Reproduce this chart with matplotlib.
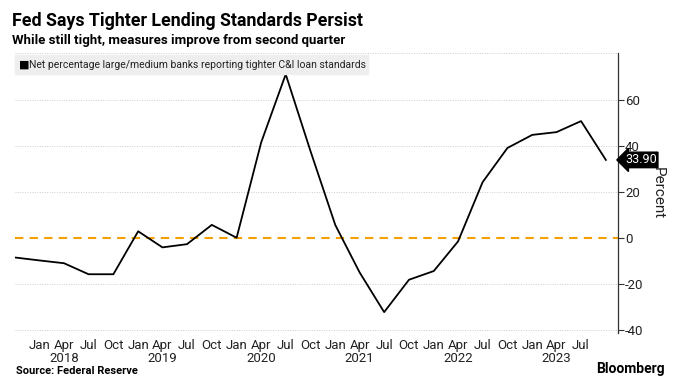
import datetime as dt
import matplotlib.pyplot as plt
from matplotlib.patches import Rectangle

plt.rcParams["font.family"] = ["Roboto", "DejaVu Sans"]

# Net percentage of large/medium banks tightening C&I loan standards (SLOOS)
quarters = ["2017-10", "2018-01", "2018-04", "2018-07", "2018-10",
            "2019-01", "2019-04", "2019-07", "2019-10",
            "2020-01", "2020-04", "2020-07", "2020-10",
            "2021-01", "2021-04", "2021-07", "2021-10",
            "2022-01", "2022-04", "2022-07", "2022-10",
            "2023-01", "2023-04", "2023-07", "2023-10"]
net_tightening = [-8.6, -9.9, -11.1, -15.9, -15.9,
                  2.8, -4.2, -2.8, 5.6,
                  0.0, 41.5, 71.2, 37.7,
                  5.5, -15.1, -32.4, -18.3,
                  -14.5, -1.6, 24.2, 39.1,
                  44.8, 46.0, 50.8, 33.9]
y_ticks = [-40, -20, 0, 20, 40, 60]
month_names = ["Jan", "Apr", "Jul", "Oct"]

dates = [dt.datetime.strptime(q, "%Y-%m") for q in quarters]

fig = plt.figure(figsize=(6.78, 3.78), dpi=100)
ax = fig.add_axes([0.022, 0.119, 0.8895, 0.741])

ax.plot(dates, net_tightening, color="black", lw=1.3, zorder=3)
ax.axhline(0, color="#f5a000", lw=1.5, ls=(0, (4, 3)), zorder=2)

ax.set_xlim(dates[0], dt.datetime(2023, 11, 15))
ax.set_ylim(-41.5, 80.5)

# right-hand percent axis
ax.yaxis.tick_right()
ax.yaxis.set_label_position("right")
ax.set_yticks(y_ticks)
ax.set_yticklabels([str(v) for v in y_ticks], fontsize=9.5, color="#222222")
ax.tick_params(axis="y", length=4, width=0.8, pad=1, color="#333333")
ax.set_ylabel("Percent", rotation=-90, labelpad=15, fontsize=11, color="#222222")
for y in y_ticks + [80.5]:
    if y != 0:
        ax.axhline(y, color="#cccccc", lw=0.7, ls=(0, (1, 1.5)), zorder=1)

for side in ["top", "left", "bottom"]:
    ax.spines[side].set_visible(False)
ax.spines["right"].set_color("#333333")
ax.spines["right"].set_linewidth(0.9)

# quarterly month labels, year under April
tick_dates = dates[1:-1]
labels = []
for d in tick_dates:
    lab = month_names[(d.month - 1) // 3]
    if d.month == 4:
        lab += "\n%d" % d.year
    labels.append(lab)
ax.set_xticks(tick_dates)
ax.set_xticklabels(labels, fontsize=9.5, color="#222222", linespacing=1.05, va="top")
ax.tick_params(axis="x", length=0, pad=4)

# legend strip
fig.patches.append(Rectangle((0.022, 0.804), 0.521, 0.05, transform=fig.transFigure,
                             color="#eeeeee", zorder=0))
fig.text(0.028, 0.829, "\u25a0", fontsize=8, va="center", color="black")
fig.text(0.043, 0.829, "Net percentage large/medium banks reporting tighter C&I loan standards",
         fontsize=7.5, va="center", color="#222222")

# last value tag
last = net_tightening[-1]
ax.annotate("%.2f" % last, xy=(1.0, last), xycoords=("axes fraction", "data"),
            xytext=(5, 0), textcoords="offset points", ha="left", va="center",
            fontsize=9, color="white",
            bbox=dict(boxstyle="larrow,pad=0.1", fc="black", ec="black"))

fig.text(0.017, 0.945, "Fed Says Tighter Lending Standards Persist",
         fontsize=12.8, fontweight="bold", va="center")
fig.text(0.017, 0.893, "While still tight, measures improve from second quarter",
         fontsize=9.5, fontweight="bold", va="center")
fig.text(0.023, 0.006, "Source: Federal Reserve", fontsize=8, fontweight="bold", va="bottom")
fig.text(0.98, 0.006, "Bloomberg", fontsize=10, fontweight="bold", ha="right", va="bottom")

fig.savefig("out.png", dpi=100)
